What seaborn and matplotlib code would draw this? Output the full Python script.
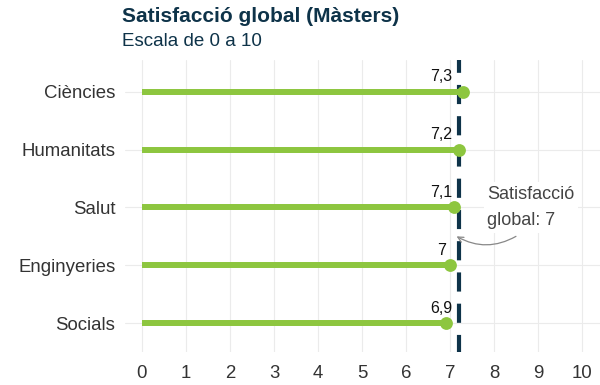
import pandas as pd
import matplotlib.pyplot as plt
import seaborn as sns

sns.set_style("whitegrid")
plt.rcParams['font.family'] = ['Liberation Sans', 'DejaVu Sans']

green = '#8dc63f'
navy = '#0e3349'

areas = ['Ciències', 'Humanitats', 'Salut', 'Enginyeries', 'Socials']
scores = [7.3, 7.2, 7.1, 7.0, 6.9]
labels = ['7,3', '7,2', '7,1', '7', '6,9']
global_score = 7.2
global_label = 'Satisfacció\nglobal: 7'

df = pd.DataFrame({'area': areas, 'score': scores, 'label': labels})

fig = plt.figure(figsize=(6, 3.85), dpi=100)
ax = fig.add_axes([125 / 600, 1 - 352 / 385, 475 / 600, 292 / 385])

# global average line (behind the dots)
ax.axvline(global_score, color=navy, linewidth=3, linestyle=(0.5, (4.6, 2.9)), zorder=2)

# lollipop sticks
ax.hlines(y=range(len(areas)), xmin=0, xmax=df['score'], color=green, linewidth=4.3, zorder=3)
sns.scatterplot(data=df, x='score', y='area', color=green, s=85, edgecolor=green, linewidth=0, ax=ax, zorder=4)

# value labels sit just left of the global line
for i, row in df.iterrows():
    ax.text(6.8, i - 0.13, row['label'], ha='center', va='bottom', fontsize=11.5, color='#111111')

ax.text(7.85, 2.0, global_label, fontsize=13, color='#444444', ha='left', va='center',
        linespacing=1.7, bbox=dict(boxstyle='square,pad=0.2', fc='white', ec='none'), zorder=5)
ax.annotate('', xy=(global_score - 0.05, 2.5), xytext=(8.5, 2.5),
            arrowprops=dict(arrowstyle='->', color='#888888', lw=0.9,
                            connectionstyle='arc3,rad=-0.28', shrinkA=0, shrinkB=0), zorder=5)

ax.set_xlim(-0.386, 10.41)
ax.set_ylim(4.5, -0.55)
ax.set_xticks(range(0, 11))
ax.set_xlabel('')
ax.set_ylabel('')
ax.tick_params(axis='x', labelsize=13.4, colors='#333333', pad=9.5, length=0)
ax.tick_params(axis='y', labelsize=13.4, colors='#333333', pad=7, length=0)
ax.grid(color='#ebebeb', linewidth=0.8)
for s in ax.spines.values():
    s.set_visible(False)

fig.text(122 / 600, 1 - 16 / 385, 'Satisfacció global (Màsters)', fontsize=15, fontweight='bold',
         color='#0e3349', va='center', ha='left')
fig.text(122 / 600, 1 - 41 / 385, 'Escala de 0 a 10', fontsize=13.5, color='#0e3349', va='center', ha='left')

fig.savefig('out.png', dpi=100)
